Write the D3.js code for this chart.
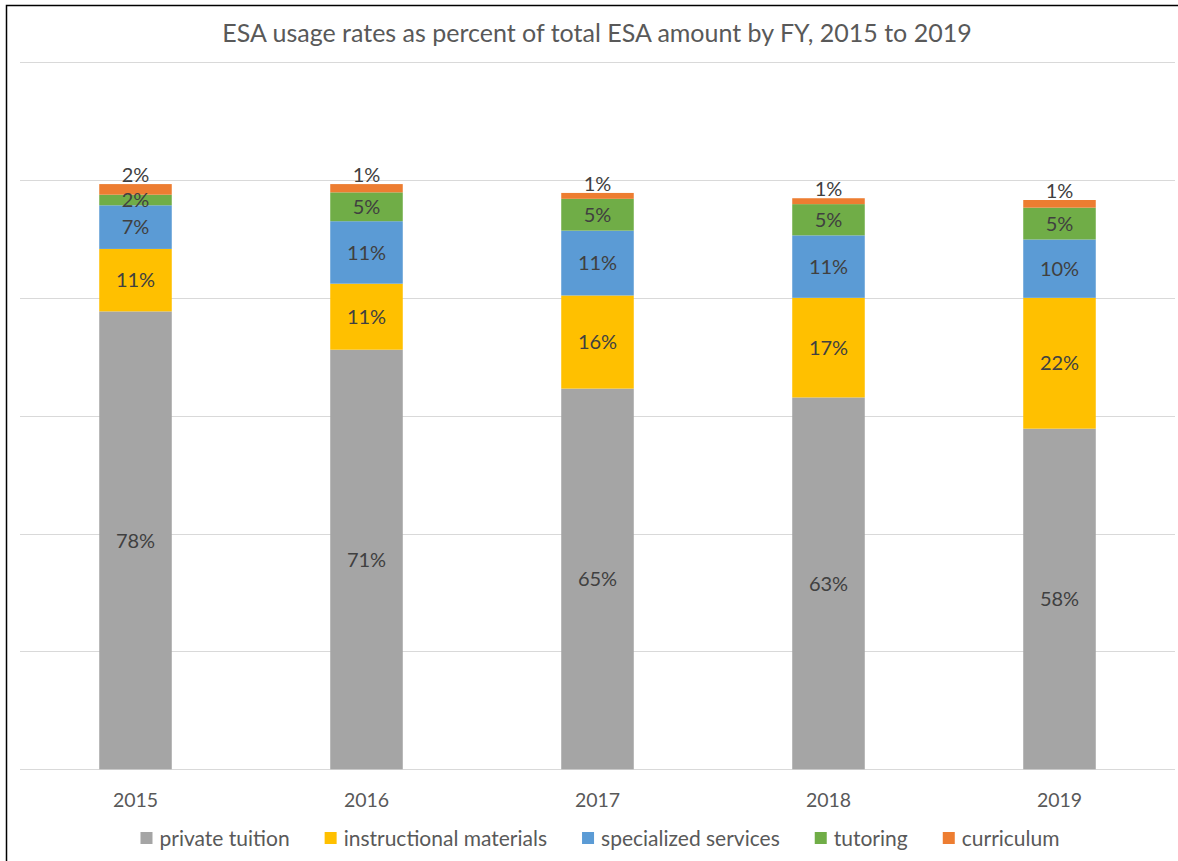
<!DOCTYPE html>
<html>
<head>
<meta charset="utf-8">
<script src="https://cdn.jsdelivr.net/npm/d3@7"></script>
<style>
  html, body { margin: 0; padding: 0; background: #fff; }
  svg { display: block; }
  text { font-family: Lato, "Open Sans", sans-serif; }
</style>
</head>
<body>
<svg id="chart" width="1178" height="861"></svg>
<script>
const years = ["2015", "2016", "2017", "2018", "2019"];
const seriesNames = ["private tuition", "instructional materials", "specialized services", "tutoring", "curriculum"];
const privateTuition = [77.7, 71.2, 64.6, 63.1, 57.8];
const instructionalMaterials = [10.6, 11.2, 15.8, 16.9, 22.2];
const specializedServices = [7.4, 10.6, 11.0, 10.6, 9.9];
const tutoring = [1.8, 4.9, 5.4, 5.3, 5.4];
const curriculum = [1.8, 1.4, 1.0, 1.0, 1.3];
const yTicks = [0, 20, 40, 60, 80, 100, 120];
const seriesColors = ["#A5A5A5", "#FFC000", "#5B9BD5", "#70AD47", "#ED7D31"];
const titleText = "ESA usage rates as percent of total ESA amount by FY, 2015 to 2019";

const seriesValues = [privateTuition, instructionalMaterials, specializedServices, tutoring, curriculum];
const rows = years.map((yr, i) => {
  const r = { year: yr };
  seriesNames.forEach((s, j) => { r[s] = seriesValues[j][i]; });
  return r;
});

const svg = d3.select("#chart");

// outer border
svg.append("rect")
  .attr("x", 6.5).attr("y", 5.5)
  .attr("width", 1200).attr("height", 900)
  .attr("fill", "#fff").attr("stroke", "#000").attr("stroke-width", 1.5);

const plotLeft = 20, plotRight = 1175, plotTop = 62.1, plotBottom = 769.3;

const x = d3.scaleBand().domain(years).range([plotLeft, plotRight])
  .paddingInner(0.686).paddingOuter(0.343);
const y = d3.scaleLinear().domain([0, 120]).range([plotBottom, plotTop]);

// gridlines
svg.append("g").selectAll("line").data(yTicks).join("line")
  .attr("x1", plotLeft).attr("x2", plotRight)
  .attr("y1", d => Math.round(y(d)) + 0.5).attr("y2", d => Math.round(y(d)) + 0.5)
  .attr("stroke", "#D9D9D9").attr("stroke-width", 1);

const stack = d3.stack().keys(seriesNames);
const stacked = stack(rows);
const color = d3.scaleOrdinal().domain(seriesNames).range(seriesColors);

const layers = svg.append("g").selectAll("g").data(stacked).join("g")
  .attr("fill", d => color(d.key));

layers.selectAll("rect").data(d => d).join("rect")
  .attr("x", d => x(d.data.year))
  .attr("width", x.bandwidth())
  .attr("y", d => y(d[1]))
  .attr("height", d => y(d[0]) - y(d[1]));

// data labels
const lastKey = seriesNames[seriesNames.length - 1];
const labelG = svg.append("g");
stacked.forEach(layer => {
  labelG.selectAll(null).data(layer).join("text")
    .attr("x", d => x(d.data.year) + x.bandwidth() / 2)
    .attr("y", d => layer.key === lastKey ? y(d[1]) - 9 : (y(d[0]) + y(d[1])) / 2)
    .attr("dy", "0.36em")
    .attr("text-anchor", "middle")
    .attr("font-size", 20)
    .attr("fill", "#404040")
    .text(d => Math.round(d[1] - d[0]) + "%");
});

// x axis labels
const xAxis = d3.axisBottom(x).tickSize(0).tickPadding(0);
const xg = svg.append("g").attr("transform", `translate(0,${plotBottom})`).call(xAxis);
xg.select(".domain").remove();
xg.selectAll("text")
  .attr("y", 31).attr("dy", "0.36em")
  .attr("font-size", 19.5)
  .attr("font-family", "Lato, sans-serif")
  .attr("fill", "#595959");

// title
svg.append("text")
  .attr("x", 597).attr("y", 33).attr("dy", "0.36em")
  .attr("text-anchor", "middle")
  .attr("font-size", 25)
  .attr("fill", "#595959")
  .text(titleText);

// legend
const legend = svg.append("g");
const items = legend.selectAll("g").data(seriesNames).join("g");
items.append("rect").attr("width", 12).attr("height", 12).attr("y", -6)
  .attr("fill", d => color(d));
items.append("text").attr("x", 19).attr("dy", "0.36em")
  .attr("font-size", 21).attr("fill", "#595959").text(d => d);
let cx = 0;
const gap = 35;
items.each(function() {
  const w = this.getBBox().width;
  d3.select(this).attr("data-x", cx);
  cx += w + gap;
});
const totalW = cx - gap;
const startX = 600 - totalW / 2;
items.attr("transform", function() {
  return `translate(${startX + (+this.getAttribute("data-x"))},838)`;
});
</script>
</body>
</html>
